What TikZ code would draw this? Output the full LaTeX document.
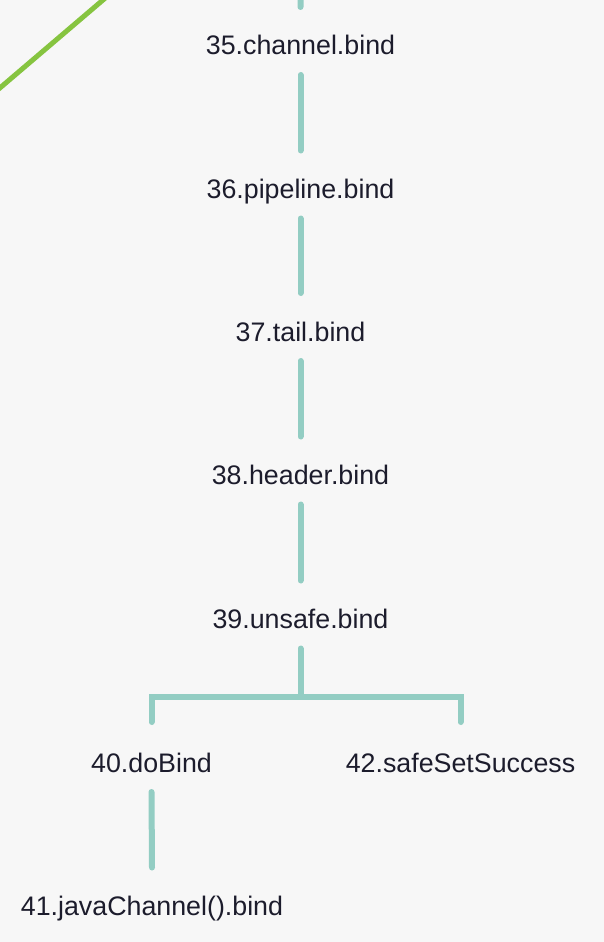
\documentclass[tikz,border=0pt]{standalone}
\usepackage{fontspec}
\setmainfont{Liberation Sans}
\definecolor{bgc}{HTML}{F7F7F7}
\definecolor{linkc}{HTML}{93CDC3}
\definecolor{greenc}{HTML}{86C440}
\definecolor{txtc}{HTML}{1C1C2C}
\begin{document}
\begin{tikzpicture}[x=1pt,y=-1pt,
  lbl/.style={anchor=base,inner sep=0pt,text=txtc,font=\fontsize{26.8}{30}\selectfont},
  link/.style={draw=linkc,line width=6pt,line cap=round},
  glink/.style={draw=greenc,line width=5pt}]
\fill[bgc] (0,0) rectangle (604,942);
\useasboundingbox (0,0) rectangle (604,942);
\clip (0,0) rectangle (604,942);
\node[lbl] (n35) at (300.5,55) {35.channel.bind};
\node[lbl] (n36) at (300.5,198.5) {36.pipeline.bind};
\node[lbl] (n37) at (300.5,341) {37.tail.bind};
\node[lbl] (n38) at (300.5,484.5) {38.header.bind};
\node[lbl] (n39) at (300.5,628.5) {39.unsafe.bind};
\node[lbl] (n40) at (151.5,772) {40.doBind};
\node[lbl] (n42) at (460.5,772) {42.safeSetSuccess};
\node[lbl] (n41) at (152,915.5) {41.javaChannel().bind};
\coordinate (top) at (301,-10);
\coordinate (g1) at (-6,93);
\coordinate (g2) at (110,-6);
\draw[glink] (g1) -- (g2);
\draw[link] (top) -- ([yshift=48pt]n35.base);
\draw[link] ([yshift=-20pt]n35.base) -- ([yshift=48pt]n36.base);
\draw[link] ([yshift=-20pt]n36.base) -- ([yshift=48pt]n37.base);
\draw[link] ([yshift=-20pt]n37.base) -- ([yshift=48pt]n38.base);
\draw[link] ([yshift=-20pt]n38.base) -- ([yshift=48pt]n39.base);
\draw[link,line join=miter] ([yshift=-20pt]n39.base) -- ([yshift=-68pt]n39.base);
\draw[link,line join=miter] ([yshift=50pt]n40.base) |- ([yshift=-68pt]n39.base) -| ([yshift=50pt]n42.base);
\draw[link] ([yshift=-20pt]n40.base) -- ([yshift=48pt]n41.base);
\end{tikzpicture}
\end{document}
